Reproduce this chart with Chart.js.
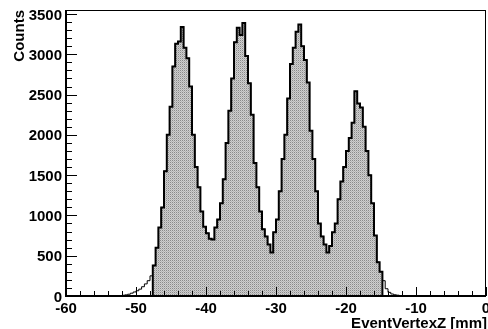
<!DOCTYPE html>
<html>
<head>
<meta charset="utf-8">
<script src="https://cdn.jsdelivr.net/npm/chart.js@4.4.1/dist/chart.umd.min.js"></script>
<style>
  html, body { margin: 0; padding: 0; background: #fff; }
  #chart { display: block; }
</style>
</head>
<body>
<canvas id="chart" width="488" height="329"></canvas>
<script>
// histogram binning (EventVertexZ, mm)
const binLow = -60;
const binWidth = 0.4;
// counts per bin
const counts = [
  0, 0, 0, 0, 0, 0, 0, 0, 0, 0, 0, 0, 0, 0, 0,
  1, 2, 3, 4, 6, 9, 14, 22, 35, 50, 65, 85, 115, 150, 190,
  250, 380, 600, 850, 1100, 1550, 2000, 2350, 2850, 3130,
  3160, 3340, 3080, 2950, 2600, 2000, 1600, 1350, 1050, 860,
  780, 710, 700, 850, 950, 1150, 1450, 1900, 2300, 2700,
  3150, 3330, 3240, 3390, 2980, 2640, 2250, 1650, 1350, 1050,
  830, 740, 640, 540, 790, 950, 1300, 1700, 2000, 2450,
  2880, 3080, 3280, 3370, 3100, 2930, 2650, 2050, 1700, 1300,
  900, 740, 640, 540, 620, 790, 900, 1200, 1420, 1600,
  1800, 1960, 2150, 2540, 2390, 2340, 2100, 1800, 1500, 1150,
  750, 420, 300, 190, 90, 45, 25, 15, 10, 6,
  4, 3, 2, 2, 1, 1, 0, 0, 0, 0,
  0, 0, 0, 0, 0, 0, 0, 0, 0, 0,
  0, 0, 0, 0, 0, 0, 0, 0, 0, 0, 0, 0, 0, 0
];
// bins inside the selection cut (filled)
const cutFirstBin = 31;
const cutLastBin = 112;

const xTicks = [-60, -50, -40, -30, -20, -10, 0];
const yTicks = [0, 500, 1000, 1500, 2000, 2500, 3000, 3500];
const xMinorStep = 2;
const yMinorStep = 100;
const xTitle = "EventVertexZ [mm]";
const yTitle = "Counts";

// step points at bin left edges, plus closing right edge
function stepPoints(first, last, closeToZero) {
  const pts = [];
  if (closeToZero) pts.push({ x: binLow + first * binWidth, y: 0 });
  for (let i = first; i <= last; i++) {
    pts.push({ x: binLow + i * binWidth, y: counts[i] });
  }
  pts.push({ x: binLow + (last + 1) * binWidth, y: counts[last] });
  if (closeToZero) pts.push({ x: binLow + (last + 1) * binWidth, y: 0 });
  return pts;
}

function makePattern(ctx) {
  const c = document.createElement("canvas");
  c.width = 2; c.height = 2;
  const p = c.getContext("2d");
  p.fillStyle = "#cfcfcf"; p.fillRect(0, 0, 2, 2);
  p.fillStyle = "#8a8a8a"; p.fillRect(0, 0, 1, 1);
  p.fillStyle = "#b4b4b4"; p.fillRect(1, 1, 1, 1);
  return ctx.createPattern(c, "repeat");
}

const fontCss = "bold 15px 'Liberation Sans', Arial, sans-serif";

// ROOT-like frame, inward ticks, labels and titles
const rootAxes = {
  id: "rootAxes",
  afterDatasetsDraw(chart) {
    const { ctx, chartArea: a, scales } = chart;
    const xs = scales.x, ys = scales.y;
    ctx.save();
    ctx.strokeStyle = "#000";
    ctx.lineWidth = 1;
    ctx.beginPath();
    ctx.moveTo(a.left, a.top + 0.5); ctx.lineTo(a.right, a.top + 0.5);
    ctx.moveTo(a.right - 0.5, a.top); ctx.lineTo(a.right - 0.5, a.bottom);
    ctx.stroke();

    ctx.beginPath();
    for (let v = xs.min; v <= xs.max + 1e-9; v += xMinorStep) {
      const px = Math.round(xs.getPixelForValue(v)) + 0.5;
      const len = xTicks.includes(Math.round(v)) ? 9 : 5;
      ctx.moveTo(px, a.bottom); ctx.lineTo(px, a.bottom - len);
    }
    for (let v = 0; v <= ys.max; v += yMinorStep) {
      const py = Math.round(ys.getPixelForValue(v)) + 0.5;
      const len = yTicks.includes(v) ? 11 : 6;
      ctx.moveTo(a.left, py); ctx.lineTo(a.left + len, py);
    }
    ctx.stroke();

    ctx.lineWidth = 2;
    ctx.beginPath();
    ctx.moveTo(a.left, a.top); ctx.lineTo(a.left, a.bottom);
    ctx.lineTo(a.right, a.bottom);
    ctx.stroke();

    ctx.fillStyle = "#000";
    ctx.font = fontCss;
    ctx.textBaseline = "alphabetic";
    ctx.textAlign = "right";
    yTicks.forEach(v => {
      ctx.fillText(String(v), a.left - 4, ys.getPixelForValue(v) + 5.5);
    });
    ctx.textAlign = "center";
    xTicks.forEach(v => {
      ctx.fillText(String(v), xs.getPixelForValue(v), a.bottom + 17);
    });
    ctx.textAlign = "right";
    ctx.fillText(xTitle, a.right + 1, 328);

    ctx.translate(24, a.top);
    ctx.rotate(-Math.PI / 2);
    ctx.textAlign = "right";
    ctx.fillText(yTitle, 0, 0);
    ctx.restore();
  }
};

const ctx = document.getElementById("chart").getContext("2d");

new Chart(ctx, {
  type: "line",
  data: {
    datasets: [
      {
        label: "cut",
        data: stepPoints(cutFirstBin, cutLastBin, true),
        stepped: "before",
        borderColor: "#000",
        borderWidth: 2,
        backgroundColor: makePattern(ctx),
        fill: "origin",
        pointRadius: 0
      },
      {
        label: "all",
        data: stepPoints(0, counts.length - 1, false),
        stepped: "before",
        borderColor: "#000",
        borderWidth: 1,
        fill: false,
        pointRadius: 0
      }
    ]
  },
  options: {
    responsive: false,
    animation: false,
    events: [],
    layout: { autoPadding: false, padding: { top: 10, right: 2, left: 66, bottom: 33 } },
    plugins: { legend: { display: false }, tooltip: { enabled: false } },
    scales: {
      x: { type: "linear", min: -60, max: 0, display: false },
      y: { type: "linear", min: 0, max: 3550, display: false }
    }
  },
  plugins: [rootAxes]
});
</script>
</body>
</html>
